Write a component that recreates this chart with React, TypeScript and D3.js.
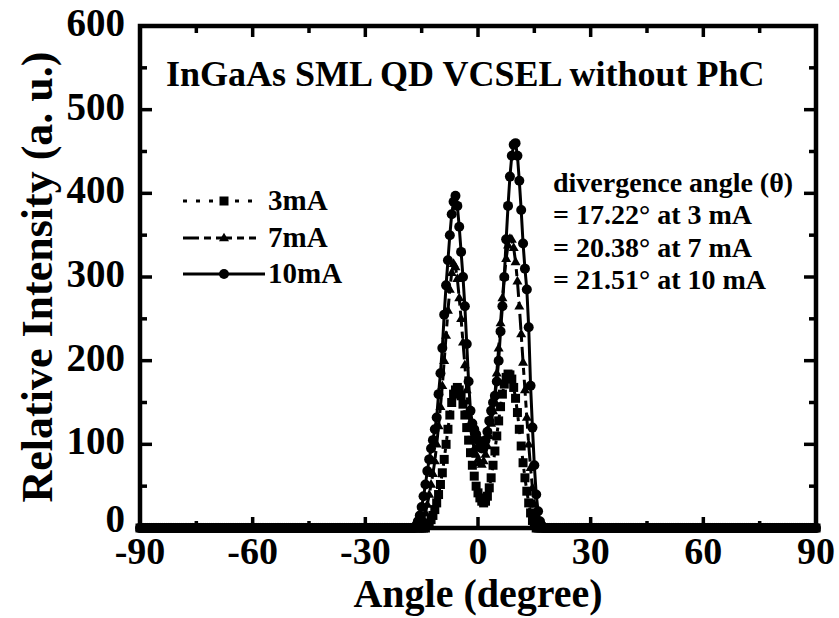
import React from "react";
import * as d3 from "d3";

// Angles (degree) of the measured region around the beam
const peakAngles = [-17,-16.5,-16,-15.5,-15,-14.5,-14,-13.5,-13,-12.5,-12,-11.5,-11,-10.5,-10,-9.5,-9,-8.5,-8,-7.5,-7,-6.5,-6,-5.5,-5,-4.5,-4,-3.5,-3,-2.5,-2,-1.5,-1,-0.5,0,0.5,1,1.5,2,2.5,3,3.5,4,4.5,5,5.5,6,6.5,7,7.5,8,8.5,9,9.5,10,10.5,11,11.5,12,12.5,13,13.5,14,14.5,15,15.5,16,16.5,17,17.5,18];

const i3mA = [0,0,0,0,0,0,0,3,6,10,15,22,30,40,52,66,82,100,118,135,150,160,165,168,165,158,148,135,120,105,90,75,62,50,42,36,32,30,32,38,48,60,75,92,110,128,145,160,172,180,184,183,178,168,155,138,118,98,78,60,44,30,18,9,3,0,0,0,0,0,0];
const i7mA = [0,0,0,2,5,10,18,28,40,52,65,80,100,122,145,170,200,230,260,285,305,316,312,298,275,250,222,195,165,140,120,105,95,88,82,78,76,80,88,98,110,125,140,160,185,215,245,275,300,322,338,346,345,335,318,295,265,232,198,165,132,100,72,48,28,14,6,2,0,0,0];
const i10mA = [0,3,8,15,25,38,52,68,82,95,105,118,132,160,185,215,255,290,320,350,375,390,397,385,360,330,300,265,220,175,140,125,118,112,105,98,95,97,105,115,128,140,150,158,175,200,235,265,300,345,385,420,445,458,460,445,415,380,340,310,285,240,170,120,75,40,20,8,3,0,0];

// Flat wings (intensity read as 0 everywhere outside the beam)
const wingLeft = d3.range(-90, -17, 0.5);
const wingRight = d3.range(18.5, 90.001, 0.5);

const seriesNames = ["3mA", "7mA", "10mA"];
const xTicks = [-90, -60, -30, 0, 30, 60, 90];
const yTicks = [0, 100, 200, 300, 400, 500, 600];
const annotation = [
  "divergence angle (\u03B8)",
  "= 17.22\u00B0 at 3 mA",
  "= 20.38\u00B0 at 7 mA",
  "= 21.51\u00B0 at 10 mA",
];
const title = "InGaAs SML QD VCSEL without PhC";

const FONT = "'Liberation Serif', 'Times New Roman', serif";

type Pt = [number, number];

function buildSeries(vals: number[]): Pt[] {
  const pts: Pt[] = [];
  wingLeft.forEach((a) => pts.push([a, 0]));
  peakAngles.forEach((a, i) => pts.push([a, vals[i]]));
  wingRight.forEach((a) => pts.push([a, 0]));
  return pts;
}

const L = 140, R = 816, T = 26, B = 528;

function Marker({ kind, cx, cy }: { kind: string; cx: number; cy: number }) {
  if (kind === "square") return <rect x={cx - 4.5} y={cy - 4.5} width={9} height={9} fill="#000" />;
  if (kind === "triangle") {
    const s = 10, h = s * 0.866;
    return <path d={`M${cx},${cy - h * 0.62}L${cx + s / 2},${cy + h * 0.38}L${cx - s / 2},${cy + h * 0.38}Z`} fill="#000" />;
  }
  return <circle cx={cx} cy={cy} r={5} fill="#000" />;
}

export default function App() {
  const x = d3.scaleLinear().domain([-90, 90]).range([L, R]);
  const y = d3.scaleLinear().domain([0, 600]).range([B, T]);
  const line = d3.line<Pt>().x((d) => x(d[0])).y((d) => y(d[1]));

  const series = [
    { name: seriesNames[0], data: buildSeries(i3mA), dash: "4,9", marker: "square" },
    { name: seriesNames[1], data: buildSeries(i7mA), dash: "16,5,7,5", marker: "triangle" },
    { name: seriesNames[2], data: buildSeries(i10mA), dash: "", marker: "circle" },
  ];

  const xMinor = d3.range(-90, 90.001, 15);
  const yMinor = d3.range(0, 600.001, 50);

  const legendY = [201, 238, 274];

  return (
    <svg width={839} height={618} style={{ position: "absolute", left: 0, top: 0, background: "#fff" }} fontFamily={FONT} fontWeight="bold">
      <rect x={0} y={0} width={839} height={618} fill="#fff" />
      {/* data */}
      {series.map((s) => (
        <g key={s.name}>
          <path d={line(s.data) || ""} fill="none" stroke="#000" strokeWidth={3} strokeDasharray={s.dash || undefined} />
          {s.data.map((d, i) => (
            <Marker key={i} kind={s.marker} cx={x(d[0])} cy={y(d[1])} />
          ))}
        </g>
      ))}
      {/* frame */}
      <rect x={L} y={T} width={R - L} height={B - T} fill="none" stroke="#000" strokeWidth={4.5} />
      {/* x ticks */}
      {xMinor.map((v) => {
        const major = v % 30 === 0;
        const len = major ? 11 : 7;
        return (
          <g key={"xt" + v}>
            <line x1={x(v)} x2={x(v)} y1={B} y2={B - len} stroke="#000" strokeWidth={3.5} />
            <line x1={x(v)} x2={x(v)} y1={T} y2={T + len} stroke="#000" strokeWidth={3.5} />
          </g>
        );
      })}
      {yMinor.map((v) => {
        const major = v % 100 === 0;
        const len = major ? 12 : 7;
        return (
          <g key={"yt" + v}>
            <line x1={L} x2={L + len} y1={y(v)} y2={y(v)} stroke="#000" strokeWidth={3.5} />
            <line x1={R} x2={R - len} y1={y(v)} y2={y(v)} stroke="#000" strokeWidth={3.5} />
          </g>
        );
      })}
      {/* tick labels */}
      {xTicks.map((v) => (
        <text key={"xl" + v} x={x(v)} y={564} fontSize={38} textAnchor="middle">{v}</text>
      ))}
      {yTicks.map((v) => (
        <text key={"yl" + v} x={125} y={y(v) + (v === 0 ? 4 : 10)} fontSize={39} textAnchor="end">{v}</text>
      ))}
      {/* axis titles */}
      <text x={(L + R) / 2} y={607} fontSize={40} textAnchor="middle">Angle (degree)</text>
      <text transform={`translate(52,${(T + B) / 2}) rotate(-90)`} fontSize={44} textAnchor="middle">Relative Intensity (a. u.)</text>
      {/* title */}
      <text x={166} y={86} fontSize={36}>{title}</text>
      {/* annotation */}
      {annotation.map((t, i) => (
        <text key={"an" + i} x={553} y={192 + i * 32.3} fontSize={28}>{t}</text>
      ))}
      {/* legend */}
      {series.map((s, i) => (
        <g key={"lg" + s.name}>
          <line x1={183} x2={i === 2 ? 265 : 256} y1={legendY[i]} y2={legendY[i]} stroke="#000" strokeWidth={3} strokeDasharray={s.dash || undefined} />
          <Marker kind={s.marker} cx={224} cy={legendY[i]} />
          <text x={268} y={legendY[i] + 9} fontSize={29}>{s.name}</text>
        </g>
      ))}
    </svg>
  );
}
